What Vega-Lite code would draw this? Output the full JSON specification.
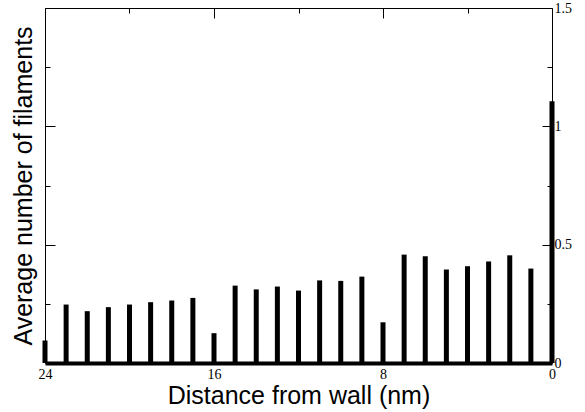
{
  "$schema": "https://vega.github.io/schema/vega-lite/v6.json",
  "width": 507,
  "height": 355,
  "autosize": {"type": "none"},
  "padding": {"left": 45, "top": 8, "right": 33, "bottom": 49},
  "background": "white",
  "config": {
    "view": {"stroke": null},
    "axis": {
      "grid": false,
      "tickColor": "black",
      "tickWidth": 1,
      "domainColor": "black",
      "domainWidth": 1,
      "labelFont": "Liberation Serif",
      "labelFontSize": 14,
      "labelColor": "black",
      "labelFlush": false,
      "labelOverlap": false,
      "titleFont": "Liberation Sans",
      "titleFontSize": 25,
      "titleFontWeight": "normal",
      "titleColor": "black"
    }
  },
  "data": {
    "values": [
      {"distance": 24, "filaments": 0.095},
      {"distance": 23, "filaments": 0.247},
      {"distance": 22, "filaments": 0.219},
      {"distance": 21, "filaments": 0.236},
      {"distance": 20, "filaments": 0.247},
      {"distance": 19, "filaments": 0.257},
      {"distance": 18, "filaments": 0.264},
      {"distance": 17, "filaments": 0.275},
      {"distance": 16, "filaments": 0.126},
      {"distance": 15, "filaments": 0.327},
      {"distance": 14, "filaments": 0.311},
      {"distance": 13, "filaments": 0.323},
      {"distance": 12, "filaments": 0.306},
      {"distance": 11, "filaments": 0.349},
      {"distance": 10, "filaments": 0.347},
      {"distance": 9, "filaments": 0.365},
      {"distance": 8, "filaments": 0.172},
      {"distance": 7, "filaments": 0.458},
      {"distance": 6, "filaments": 0.451},
      {"distance": 5, "filaments": 0.395},
      {"distance": 4, "filaments": 0.409},
      {"distance": 3, "filaments": 0.429},
      {"distance": 2, "filaments": 0.455},
      {"distance": 1, "filaments": 0.399},
      {"distance": 0, "filaments": 1.106}
    ]
  },
  "layer": [
    {
      "mark": {"type": "rule", "strokeWidth": 5, "color": "black", "strokeCap": "butt"},
      "encoding": {
        "x": {
          "field": "distance", "type": "quantitative",
          "scale": {"domain": [0, 24], "reverse": true, "nice": false, "zero": false},
          "axis": {"orient": "bottom", "values": [0, 8, 16, 24], "format": "d", "ticks": false, "domainWidth": 4, "labelPadding": 4, "title": "Distance from wall (nm)", "titlePadding": 2}
        },
        "y": {
          "field": "filaments", "type": "quantitative",
          "scale": {"domain": [0, 1.5], "nice": false},
          "axis": {"orient": "left", "values": [0, 0.5, 1, 1.5], "tickSize": -10, "labels": false, "title": "Average number of filaments", "titlePadding": 8}
        },
        "y2": {"datum": 0}
      }
    },
    {
      "mark": {"type": "rule", "opacity": 0},
      "encoding": {
        "x": {"field": "distance", "type": "quantitative", "axis": {"orient": "top", "values": [8, 16], "tickSize": -10, "labels": false, "title": null}},
        "y": {"field": "filaments", "type": "quantitative", "axis": {"orient": "left", "values": [0.25, 0.75, 1.25], "tickSize": -5, "labels": false, "domain": false, "title": null}}
      }
    },
    {
      "mark": {"type": "rule", "opacity": 0},
      "encoding": {
        "x": {"field": "distance", "type": "quantitative", "axis": {"orient": "top", "values": [4, 12, 20], "tickSize": -5, "labels": false, "domain": false, "title": null}},
        "y": {"field": "filaments", "type": "quantitative", "axis": {"orient": "right", "values": [0, 0.5, 1, 1.5], "format": "~g", "tickSize": -10, "labelPadding": 12, "title": null}}
      }
    },
    {
      "mark": {"type": "rule", "opacity": 0},
      "encoding": {
        "x": {"field": "distance", "type": "quantitative", "axis": null},
        "y": {"field": "filaments", "type": "quantitative", "axis": {"orient": "right", "values": [0.25, 0.75, 1.25], "tickSize": -5, "labels": false, "domain": false, "title": null}}
      }
    }
  ],
  "resolve": {"axis": {"x": "independent", "y": "independent"}}
}
